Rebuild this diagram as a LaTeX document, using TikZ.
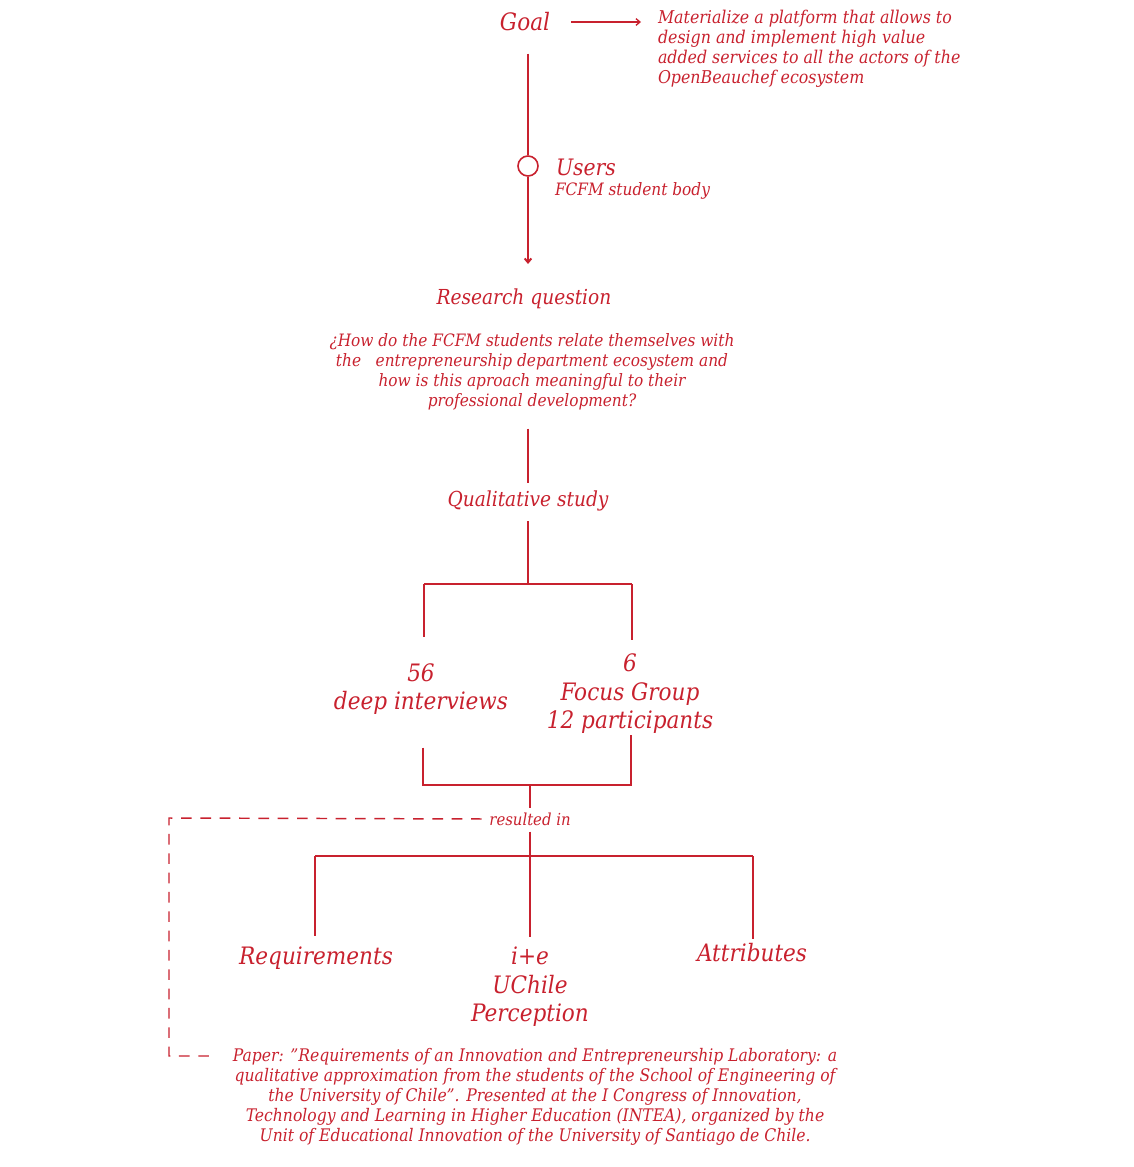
\documentclass[tikz,border=0pt]{standalone}
\usepackage{fontspec}
\setmainfont{DejaVu Serif Condensed}
\usetikzlibrary{arrows.meta}
\definecolor{labred}{RGB}{200,33,46}

\begin{document}
\begin{tikzpicture}[x=0.75pt,y=-0.75pt,color=labred,line width=1.5pt]
    \tikzstyle{every node}+=[inner sep=0pt,align=center]
    \tikzstyle{huge}=[font=\itshape\fontsize{18}{22}\selectfont]
    \tikzstyle{big}=[font=\itshape\fontsize{18}{21.4}\selectfont]
    \tikzstyle{mid}=[font=\itshape\fontsize{15.5}{18}\selectfont]
    \tikzstyle{small}=[font=\itshape\fontsize{12.8}{15}\selectfont]
    \tikzstyle{tip}=[-{Straight Barb[length=3pt,width=5pt]}]
    \useasboundingbox (0,0) rectangle (1134,1167);
    % goal and users
    \node (goal) at (525,22) [huge] {Goal};
    \node (aim) at (657,49) [small,anchor=west,align=left,font=\itshape\fontsize{13.2}{15}\selectfont] {Materialize a platform that allows to\\design and implement high value\\added services to all the actors of the\\OpenBeauchef ecosystem};
    \draw [tip,line width=1pt,shorten <=15pt,shorten >=12pt] (goal.east) -- (aim.west |- goal.east);
    \node (usr) at (528,166) [circle,draw,minimum size=15pt,line width=1.2pt] {};
    \node (users) at (555,167) [huge,anchor=west,font=\itshape\fontsize{17}{21}\selectfont] {Users};
    \node (body) at (554,191) [small,anchor=west] {FCFM student body};
    \draw [shorten <=16pt] (goal.south -| usr) -- (usr.north);
    % research question
    \node (rq) at (524,299) [mid] {Research question};
    \node (rqtext) at (532,372) [small] {¿How do the FCFM students relate themselves with\\the \ \ entrepreneurship department ecosystem and\\how is this aproach meaningful to their\\professional development?};
    \draw [tip,shorten >=18pt] (usr.south) -- (usr |- rq.north);
    \node (qual) at (528,501) [mid] {Qualitative study};
    \draw [shorten <=13pt,shorten >=5pt] (rqtext.south -| qual) -- (qual.north);
    % methods
    \coordinate (qsplit) at (528,584);
    \coordinate (qleft) at (424,584);
    \coordinate (qright) at (632,584);
    \node (intv) at (421,689) [big] {56\\deep interviews};
    \node (focus) at (630,694) [big] {6\\Focus Group\\12 participants};
    \draw [shorten <=7pt] (qual.south) -- (qsplit);
    \draw (qleft) -- (qright);
    \draw [shorten >=19pt] (qleft) -- (qleft |- intv.north);
    \draw [shorten >=10pt] (qright) -- (qright |- focus.north);
    \coordinate (mleft) at (423,785);
    \coordinate (mright) at (631,785);
    \coordinate (msplit) at (530,785);
    \draw [shorten <=24pt] (mleft |- intv.south) -- (mleft) -- (mright) -- (mright |- focus.south);
    % results
    \node (res) at (530,819) [small,font=\itshape\fontsize{12.4}{15}\selectfont] {resulted in};
    \draw [shorten >=3pt] (msplit) -- (res.north);
    \coordinate (rsplit) at (530,856);
    \coordinate (rleft) at (315,856);
    \coordinate (rright) at (753,856);
    \node (req) at (316,958) [big] {Requirements};
    \node (ie) at (530,987) [big] {i+e\\UChile\\Perception};
    \node (attr) at (752,953) [big] {Attributes};
    \draw [shorten <=4pt,shorten >=7pt] (res.south) -- (ie.north);
    \draw (rleft) -- (rright);
    \draw [shorten >=7pt] (rleft) -- (rleft |- req.north);
    \draw [shorten >=3pt] (rright) -- (rright |- attr.north);
    % paper
    \node (paper) at (535,1097) [small,font=\itshape\fontsize{13}{15}\selectfont] {Paper: "Requirements of an Innovation and Entrepreneurship Laboratory: a\\qualitative approximation from the students of the School of Engineering of\\the University of Chile". Presented at the I Congress of Innovation,\\Technology and Learning in Higher Education (INTEA), organized by the\\Unit of Educational Innovation of the University of Santiago de Chile.};
    \coordinate (dcorner) at (169,818);
    \coordinate (dend) at (212,1056);
    \draw [dash pattern=on 8pt off 6.5pt,line width=1.1pt,shorten <=5pt] (res.west) -- (dcorner) |- (dend);
\end{tikzpicture}
\end{document}
